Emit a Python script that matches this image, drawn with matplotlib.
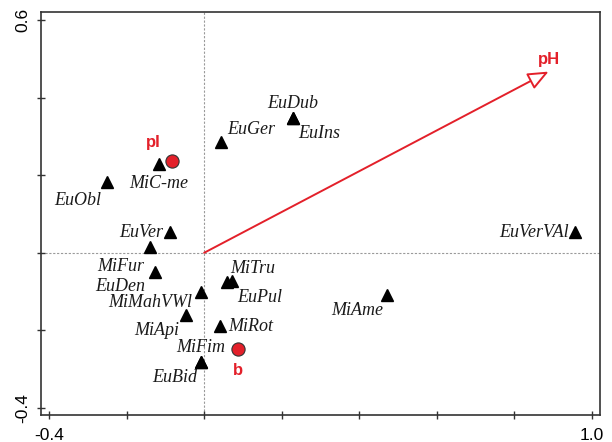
import matplotlib
matplotlib.use("Agg")
import matplotlib.pyplot as plt
import numpy as np

# Species scores (ordination axes 1 and 2)
species = ["EuDub", "EuIns", "EuGer", "MiC-me", "EuObl", "EuVer", "MiFur", "EuDen",
           "MiMahVWl", "MiApi", "MiTru", "EuPul", "MiRot", "MiFim", "EuBid",
           "MiAme", "EuVerVAl"]
sp_x = [0.229, 0.229, 0.044, -0.116, -0.250, -0.088, -0.139, -0.126,
        -0.008, -0.046, 0.072, 0.059, 0.041, -0.008, -0.008, 0.472, 0.956]
sp_y = [0.347, 0.347, 0.285, 0.228, 0.182, 0.053, 0.014, -0.050,
        -0.102, -0.161, -0.073, -0.076, -0.189, -0.282, -0.282, -0.110, 0.053]

# Nominal explanatory variables (centroids)
nominal = ["pI", "b"]
nom_x = [-0.082, 0.088]
nom_y = [0.236, -0.249]

# Quantitative explanatory variable (arrow)
arrow_name = "pH"
arrow_x = 0.888
arrow_y = 0.467

x_ticks = [-0.4, -0.2, 0.0, 0.2, 0.4, 0.6, 0.8, 1.0]
y_ticks = [-0.4, -0.2, 0.0, 0.2, 0.4, 0.6]
x_ticklabels = ["-0.4", "", "", "", "", "", "", "1.0"]
y_ticklabels = ["-0.4", "", "", "", "", "0.6"]

# Label placement: (dx, dy) in points from the marker, horizontal alignment
sp_label_pos = {
    "EuDub": (0, 10.5, "center"),
    "EuIns": (4, -11, "left"),
    "EuGer": (4, 9, "left"),
    "MiC-me": (0, -13.5, "center"),
    "EuObl": (-4, -13.5, "right"),
    "EuVer": (-5, 0, "right"),
    "MiFur": (-4, -13.5, "right"),
    "EuDen": (-7, -10.5, "right"),
    "MiMahVWl": (-6, -7.5, "right"),
    "MiApi": (-5, -11, "right"),
    "MiTru": (-1.5, 9, "left"),
    "EuPul": (7.5, -11, "left"),
    "MiRot": (6, 0, "left"),
    "MiFim": (0, 10.5, "center"),
    "EuBid": (-3, -11, "right"),
    "MiAme": (-3, -11, "right"),
    "EuVerVAl": (-4.5, 0, "right"),
}
nom_label_pos = {"pI": (-14, 13.5), "b": (0, -15)}

red = "#e3202a"
serif = ["Liberation Serif", "DejaVu Serif"]
sans = ["Liberation Sans", "DejaVu Sans"]

fig = plt.figure(figsize=(6.12, 4.42), dpi=100)
ax = fig.add_axes([41 / 612, 1 - 415 / 442, 559 / 612, 403 / 442])
ax.set_xlim(-0.4206, 1.0206)
ax.set_ylim(-0.418, 0.6206)

# Zero reference lines
ax.axhline(0, color="#9a9a9a", lw=0.8, ls=(0, (2, 1.5)), zorder=1)
ax.axvline(0, color="#9a9a9a", lw=0.8, ls=(0, (2, 1.5)), zorder=1)

# Species triangles and labels
ax.plot(sp_x, sp_y, ls="none", marker="^", ms=8.5, color="black", zorder=3)
for name, x, y in zip(species, sp_x, sp_y):
    dx, dy, ha = sp_label_pos[name]
    ax.annotate(name, (x, y), xytext=(dx, dy), textcoords="offset points",
                ha=ha, va="center", fontsize=13, style="italic",
                family=serif, color="#1a1a1a", zorder=4)

# Quantitative variable arrow
ax.annotate("", xy=(arrow_x, arrow_y), xytext=(0, 0),
            arrowprops=dict(arrowstyle="-|>,head_length=0.9,head_width=0.38",
                            mutation_scale=14, lw=1.4, ec=red, fc="white",
                            shrinkA=0, shrinkB=0), zorder=5)
ax.annotate(arrow_name, (arrow_x, arrow_y), xytext=(0, 9),
            textcoords="offset points", ha="center", va="center",
            fontsize=12, fontweight="bold", family=sans, color=red)

# Nominal variable centroids
ax.plot(nom_x, nom_y, ls="none", marker="o", ms=9.5, mfc=red, mec="#333333",
        mew=0.8, zorder=5)
for name, x, y in zip(nominal, nom_x, nom_y):
    dx, dy = nom_label_pos[name]
    ax.annotate(name, (x, y), xytext=(dx, dy), textcoords="offset points",
                ha="center", va="center", fontsize=12, fontweight="bold",
                family=sans, color=red)

# Axes frame and ticks
for s in ax.spines.values():
    s.set_color("#333333")
    s.set_linewidth(1.2)
ax.set_xticks(x_ticks)
ax.set_xticklabels(x_ticklabels, family=sans, fontsize=12.5)
ax.set_yticks(y_ticks)
ax.set_yticklabels(y_ticklabels, family=sans, fontsize=12.5, rotation=90,
                   va="center")
ax.tick_params(direction="inout", length=6, width=1, color="#333333")
ax.tick_params(axis="x", pad=6)
ax.tick_params(axis="y", pad=5)

fig.savefig("out.png", dpi=100)
